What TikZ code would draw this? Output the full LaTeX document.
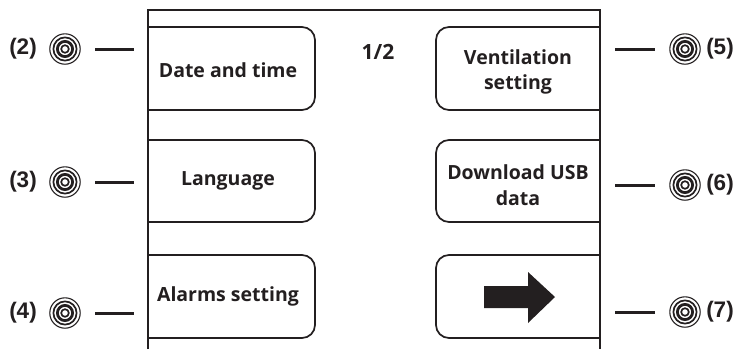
\documentclass[tikz,border=0pt]{standalone}
\usepackage{fontspec}
\setmainfont{Open Sans}
\newfontfamily\labelfont{Liberation Sans}
\definecolor{ink}{HTML}{231F20}
\begin{document}
\begin{tikzpicture}[x=1pt,y=-1pt, color=ink,
  frame/.style={line width=1.7pt},
  menubox/.style={line width=1.7pt, rounded corners=13pt},
  menutext/.style={font=\fontsize{19.5}{25.5}\selectfont\bfseries, align=center, inner sep=0pt},
  tick/.style={line width=3pt},
  callout/.style={font=\labelfont\fontsize{22.5}{24}\selectfont\bfseries, inner sep=0pt}
]
\useasboundingbox (0,0) rectangle (740,349);

% screen outline
\draw[frame] (148,349) -- (148,10) -- (600,10) -- (600,349);

% left menu buttons (square on the frame side)
\foreach \top/\bot in {27/110, 140/222, 255/338}{
  \draw[menubox] (148,\top) -- (315,\top) -- (315,\bot) -- (148,\bot);
}
% right menu buttons
\foreach \top/\bot in {27/110, 140/222, 255/338}{
  \draw[menubox] (600,\top) -- (436,\top) -- (436,\bot) -- (600,\bot);
}

\node[menutext] (date) at (228,70) {Date and time};
\node[menutext] (lang) at (228,181) {Language};
\node[menutext] (alarm) at (228,296) {Alarms setting};
\node[menutext] (vent) at (518,72) {Ventilation\\setting};
\node[menutext] (usb) at (518,185) {Download USB\\data};
\node[font=\fontsize{21}{23}\selectfont\bfseries, inner sep=0pt] (page) at (378,52) {1/2};

% next-page arrow
\fill (484,286) -- (528,286) -- (528,272) -- (555,297) -- (528,323) -- (528,308) -- (484,308) -- cycle;

% knob symbol
\newcommand{\knob}[1]{%
  \fill[white] (#1) circle (16);
  \draw[line width=1.1pt] (#1) circle (15.2);
  \draw[line width=1.7pt] (#1) circle (11.6);
  \draw[line width=2.8pt] (#1) circle (7.6);
  \draw[line width=1.7pt] (#1) circle (3.8);
}

% left callouts
\foreach \y/\n in {49/2, 182/3, 313/4}{
  \node[callout] (lbl\n) at (23,\y) {(\n)};
  \coordinate (k\n) at (65,\y);
  \knob{k\n}
  \coordinate (ta\n) at (95,\y);
  \coordinate (tb\n) at (134,\y);
  \draw[tick] (ta\n) -- (tb\n);
}
% right callouts
\foreach \y/\n in {49/5, 185/6, 312/7}{
  \node[callout] (lbl\n) at (720,\y) {(\n)};
  \coordinate (k\n) at (685,\y);
  \knob{k\n}
  \coordinate (ta\n) at (615,\y);
  \coordinate (tb\n) at (655,\y);
  \draw[tick] (ta\n) -- (tb\n);
}
\end{tikzpicture}
\end{document}
